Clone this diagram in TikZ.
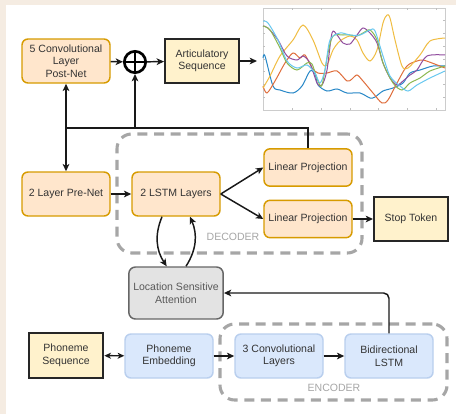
\documentclass[tikz,border=0pt]{standalone}
\usepackage{fontspec}
\setmainfont{Liberation Sans}
\usepackage{xcolor}
\usetikzlibrary{arrows.meta,positioning}
\definecolor{decfill}{HTML}{FFE6CC}
\definecolor{decline}{HTML}{D79B00}
\definecolor{encfill}{HTML}{DAE8FC}
\definecolor{encline}{HTML}{B9CFEE}
\definecolor{iofill}{HTML}{FFF2CC}
\definecolor{attfill}{HTML}{E3E3E3}
\definecolor{grpgray}{HTML}{A6A6A6}
\definecolor{bgbeige}{HTML}{F5ECE2}
\definecolor{mblue}{HTML}{0072BD}
\definecolor{morange}{HTML}{D95319}
\definecolor{myellow}{HTML}{EDB120}
\definecolor{mpurple}{HTML}{7E2F8E}
\definecolor{mgreen}{HTML}{77AC30}
\definecolor{mcyan}{HTML}{4DBEEE}

\begin{document}
\begin{tikzpicture}[
  x=0.75pt, y=-0.75pt,
  every node/.style={font=\fontsize{7.9}{9.4}\selectfont, text=black!80},
  decblock/.style={rectangle, draw=decline, line width=1.1pt, fill=decfill, rounded corners=4.5pt, align=center, minimum width=66pt, minimum height=33pt},
  encblock/.style={rectangle, draw=encline, line width=1.1pt, fill=encfill, rounded corners=4.5pt, align=center, minimum width=66pt, minimum height=33pt},
  iobox/.style={rectangle, draw=black!85, line width=1.5pt, fill=iofill, align=center, minimum width=55.5pt, minimum height=33pt},
  attbox/.style={rectangle, draw=black!60, line width=1.1pt, fill=attfill, rounded corners=5pt, align=center, minimum width=67pt, minimum height=39pt, text=black!65},
  group/.style={rectangle, draw=grpgray, line width=2.3pt, dash pattern=on 7.5pt off 5pt, rounded corners=11pt},
  grouplabel/.style={text=grpgray},
  arr/.style={-{Stealth[length=5.5pt, width=5pt, inset=1.5pt]}, line width=1.1pt, black!90},
  curve/.style={line width=0.75pt, smooth}
]
\useasboundingbox (0,0) rectangle (456,414);
\fill[bgbeige] (0,0) rectangle (456,414);
\fill[white] (6,5) rectangle (456,414);

% Containers
\node[group, minimum width=183.75pt, minimum height=89.25pt] (decoder) at (239.5,193.5) {};
\node[group, minimum width=170.25pt, minimum height=57pt] (encoder) at (333.5,362) {};
\node[grouplabel] (declabel) at (233,237) {DECODER};
\node[grouplabel] (enclabel) at (334,388) {ENCODER};

% Decoder side
\node[decblock] (postnet) at (66,61) {5 Convolutional\\Layer\\Post-Net};
\node[circle, draw, line width=2pt, minimum size=16pt, inner sep=0pt] (sum) at (135,62) {};
\draw[line width=2pt] (sum.north) -- (sum.south) (sum.west) -- (sum.east);
\node[iobox] (artic) at (202,61) {Articulatory\\Sequence};
\node[decblock] (prenet) at (66,194) {2 Layer Pre-Net};
\node[decblock] (lstm) at (176,194) {2 LSTM Layers};
\node[decblock, minimum height=28pt] (proj1) at (308,167.5) {Linear Projection};
\node[decblock, minimum height=28pt] (proj2) at (308,219) {Linear Projection};
\node[iobox] (stop) at (411,219) {Stop Token};

% Attention
\node[attbox] (att) at (176,293) {Location Sensitive\\Attention};

% Encoder side
\node[iobox, minimum width=56pt, minimum height=34pt] (phonseq) at (66,355.5) {Phoneme\\Sequence};
\node[encblock] (embed) at (169,356) {Phoneme\\Embedding};
\node[encblock] (conv) at (279,356) {3 Convolutional\\Layers};
\node[encblock] (bilstm) at (389,356) {Bidirectional\\LSTM};

% Output plot
\coordinate (plotin) at (257,61);
\draw[black!20, line width=0.4pt] (263,8) rectangle (445,110);
\foreach \tx in {292,321,350,378,407,436} {
  \draw[black!25, line width=0.3pt] (\tx,110) -- (\tx,108) (\tx,8) -- (\tx,10);
}
\foreach \ty in {20,33,46,59,71,84,97} {
  \draw[black!25, line width=0.3pt] (263,\ty) -- (265,\ty) (445,\ty) -- (443,\ty);
}
\draw[curve, mblue!85] plot coordinates {(263,58) (265,56) (273,86) (280,90) (293,93) (302,86) (310,71) (315,74) (318,85) (327,91) (337,89) (347,93) (360,93) (370,98) (375,97) (383,91) (393,88) (403,83) (410,73) (420,70) (433,66) (445,66)};
\draw[curve, morange!85] plot coordinates {(263,86) (267,93) (275,81) (285,63) (293,53) (300,58) (305,55) (312,68) (318,73) (327,73) (337,71) (347,81) (352,79) (357,75) (363,81) (373,93) (382,103) (388,100) (397,83) (407,66) (417,61) (423,60) (432,63) (445,68)};
\draw[curve, myellow!85] plot coordinates {(263,88) (270,76) (280,56) (293,40) (303,25) (313,40) (322,63) (327,65) (333,50) (340,41) (350,36) (357,40) (363,53) (370,61) (377,50) (383,23) (387,15) (390,18) (395,40) (402,66) (408,68) (420,55) (430,41) (445,38)};
\draw[curve, mpurple!85] plot coordinates {(263,26) (268,28) (278,40) (287,56) (297,60) (303,56) (310,63) (317,83) (322,85) (327,70) (332,33) (337,35) (343,43) (350,44) (357,35) (363,28) (370,33) (377,43) (383,63) (390,78) (397,85) (403,81) (410,75) (417,70) (427,56) (445,55)};
\draw[curve, mgreen!85] plot coordinates {(263,26) (270,30) (280,48) (287,63) (297,70) (307,63) (312,64) (318,81) (322,85) (328,53) (333,36) (343,35) (350,35) (357,36) (363,33) (370,30) (377,40) (383,63) (393,83) (402,90) (410,83) (420,78) (430,71) (445,66)};
\draw[curve, mcyan!85] plot coordinates {(263,21) (268,23) (278,40) (287,61) (297,68) (307,65) (315,73) (320,83) (325,70) (330,40) (340,33) (350,35) (360,35) (370,30) (375,31) (383,56) (390,76) (400,86) (408,91) (417,85) (430,78) (445,71)};

% Arrows
\draw[arr] (postnet) -- (sum);
\draw[arr] (sum) -- (artic);
\draw[arr] (artic) -- (plotin);
\coordinate (fb) at (66,128);
\draw[arr] (proj1.north) |- (fb) -- (postnet.south);
\draw[arr] (fb) -- (prenet.north);
\draw[arr] (sum.south |- fb) -- (sum.south);
\draw[arr] (prenet) -- (lstm);
\draw[arr] (lstm.east) -- (proj1.west);
\draw[arr] (lstm.east) -- (proj2.west);
\draw[arr] (proj2) -- (stop);
\draw[arr] ([xshift=-10.5pt]lstm.south) to[bend right=28] ([xshift=-7pt]att.north);
\draw[arr] ([xshift=7.5pt]att.north) to[bend right=28] ([xshift=10.5pt]lstm.south);
\draw[arr, rounded corners=4pt] (bilstm.north) |- (att.east);
\draw[{Stealth[length=5pt, width=4.5pt, inset=1.5pt]}-{Stealth[length=5pt, width=4.5pt, inset=1.5pt]}, line width=1.1pt, black!90] (phonseq) -- (embed);
\draw[arr] (embed) -- (conv);
\draw[arr] (conv) -- (bilstm);

\end{tikzpicture}
\end{document}
